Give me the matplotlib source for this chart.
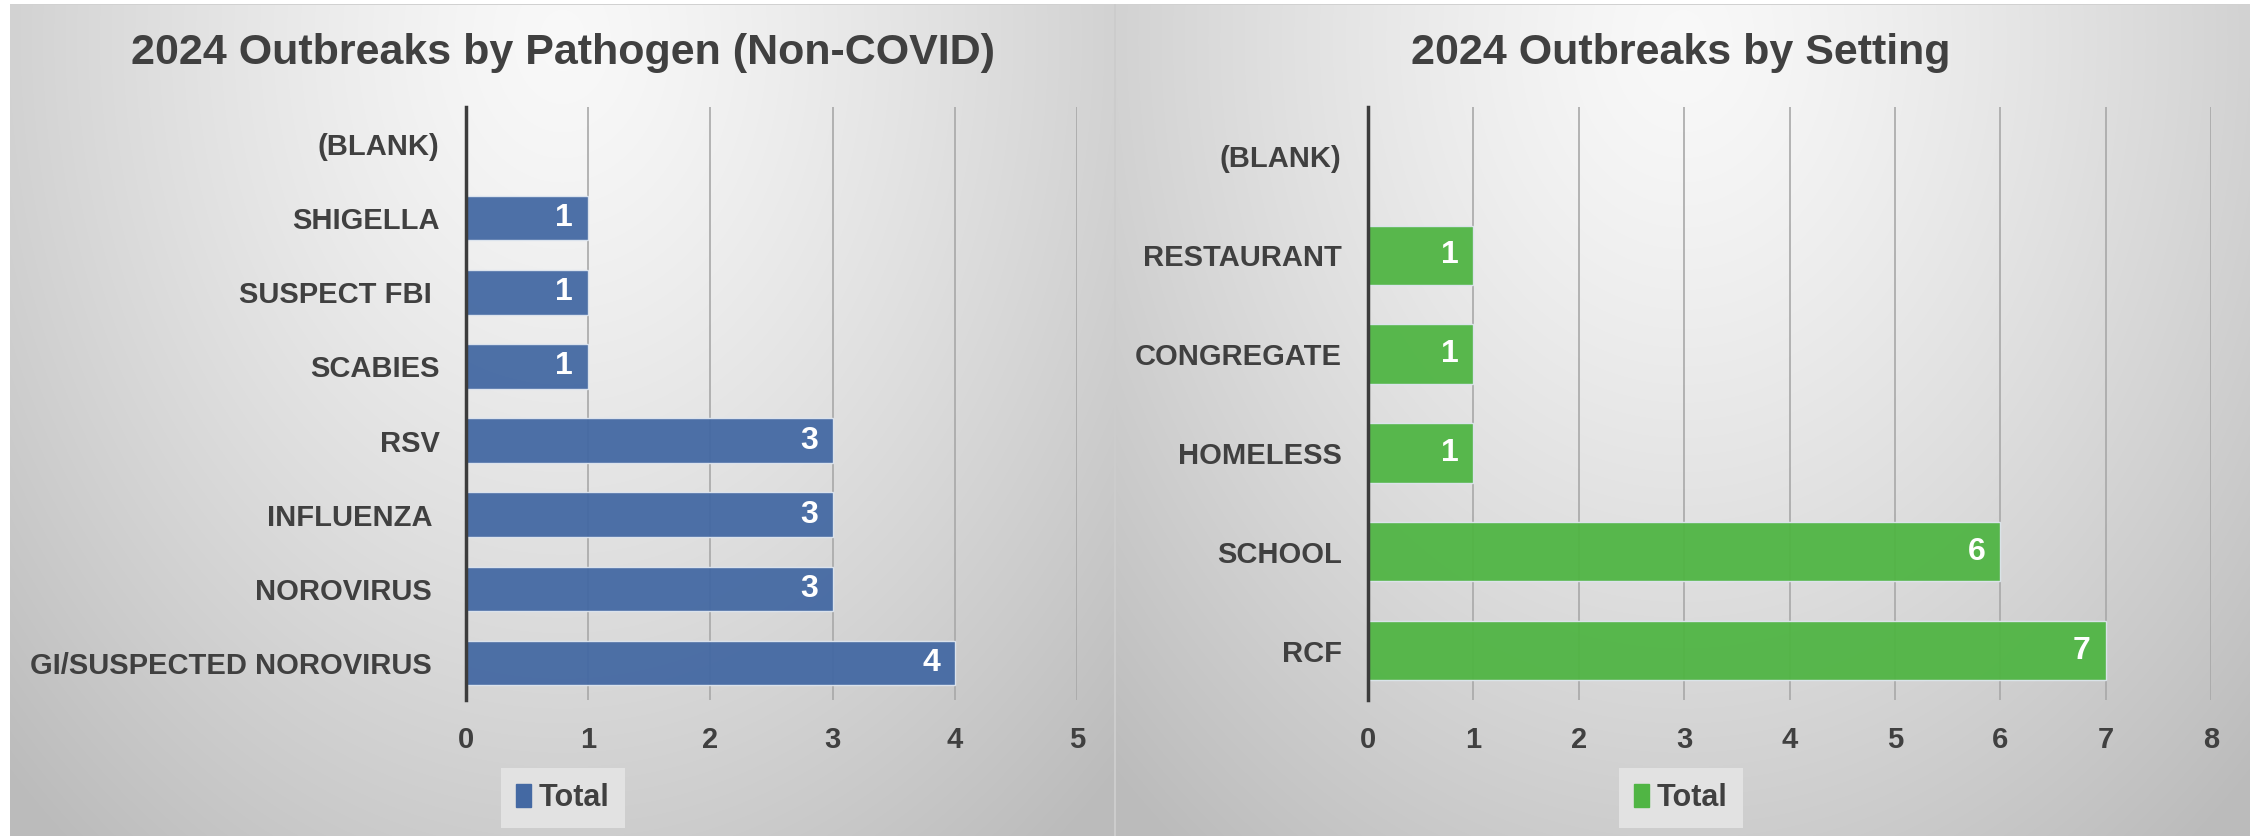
import matplotlib.pyplot as plt
import numpy as np
from matplotlib.patches import Patch

# data
pathogens = ['(BLANK)', 'SHIGELLA', 'SUSPECT FBI ', 'SCABIES', 'RSV',
             'INFLUENZA ', 'NOROVIRUS ', 'GI/SUSPECTED NOROVIRUS ']
pathogen_counts = [0, 1, 1, 1, 3, 3, 3, 4]
settings = ['(BLANK)', 'RESTAURANT', 'CONGREGATE', 'HOMELESS', 'SCHOOL', 'RCF']
setting_counts = [0, 1, 1, 1, 6, 7]
left_title = '2024 Outbreaks by Pathogen (Non-COVID)'
right_title = '2024 Outbreaks by Setting'

plt.rcParams['font.family'] = ['Liberation Sans', 'DejaVu Sans']
plt.rcParams['font.weight'] = 'bold'
TXT = '#404040'
W, H = 2254, 836

fig = plt.figure(figsize=(W / 100, H / 100), dpi=100)
fig.patch.set_facecolor('white')

# gradient background for the two chart panels
bg = fig.add_axes([0, 0, 1, 1], zorder=-5)
img = np.ones((H, W, 3))
yy, xx = np.mgrid[0:H, 0:W]
for x0, x1 in [(10, 1114), (1116, 2249)]:
    cx = (x0 + x1) / 2
    r = np.sqrt(((xx - cx) / ((x1 - x0) * 0.62)) ** 2 + ((yy - 40) / 900.0) ** 2)
    g = 0.975 - 0.2 * np.clip(r, 0, 1.15) ** 1.3
    m = (xx >= x0) & (xx <= x1) & (yy >= 4)
    for c in range(3):
        img[..., c][m] = g[m]
img[4, 10:2249] = 0.82
img[4:, 1114:1116] = 0.8
bg.imshow(img, aspect='auto', extent=[0, W, H, 0], interpolation='bilinear')
bg.set_xlim(0, W)
bg.set_ylim(H, 0)
bg.axis('off')


def panel(rect, cats, vals, xmax, color, title, tx):
    ax = fig.add_axes(rect)
    ax.set_facecolor('none')
    y = np.arange(len(cats))
    bars = ax.barh(y, vals, height=0.6, color=color, alpha=0.95,
                   edgecolor='#dfe6ef', linewidth=1, zorder=2)
    ax.set_ylim(len(cats) - 0.5, -0.5)
    ax.set_xlim(0, xmax)
    ax.set_xticks(range(xmax + 1))
    ax.set_yticks(y)
    ax.set_yticklabels(cats)
    ax.tick_params(axis='both', length=0, labelsize=21, labelcolor=TXT)
    ax.tick_params(axis='y', pad=19)
    ax.tick_params(axis='x', pad=19)
    ax.grid(axis='x', color='#a8a8a8', linewidth=1.2, zorder=1)
    ax.set_axisbelow(True)
    for s in ['top', 'right', 'bottom']:
        ax.spines[s].set_visible(False)
    ax.spines['left'].set_color('#3c3c3c')
    ax.spines['left'].set_linewidth(2.5)
    ax.spines['left'].set_zorder(3)
    px = xmax / (rect[2] * W)  # data units per pixel
    for b, v in zip(bars, vals):
        if v > 0:
            ax.text(v - 15 * px, b.get_y() + b.get_height() / 2, str(v),
                    ha='right', va='center', color='white', fontsize=23,
                    fontweight='bold', zorder=4)
    fig.text(tx, 1 - 53 / H, title, ha='center', va='center', fontsize=31,
             fontweight='bold', color=TXT)
    leg = fig.legend(handles=[Patch(color=color, label='Total')], loc='center',
                     bbox_to_anchor=(tx, 1 - 798 / H), fontsize=22,
                     handlelength=0.5, handleheight=0.75, handletextpad=0.25,
                     frameon=True, fancybox=False, borderpad=0.5)
    leg.get_frame().set_facecolor('#e2e2e2')
    leg.get_frame().set_edgecolor('none')
    leg.get_frame().set_alpha(1)
    for t in leg.get_texts():
        t.set_color(TXT)
    return ax


panel([466 / W, 1 - 700 / H, (1077 - 466) / W, 593 / H], pathogens,
      pathogen_counts, 5, '#4469A3', left_title, 563 / W)
panel([1368 / W, 1 - 700 / H, (2211 - 1368) / W, 593 / H], settings,
      setting_counts, 8, '#50B544', right_title, 1681 / W)

fig.savefig('out.png', dpi=100)
